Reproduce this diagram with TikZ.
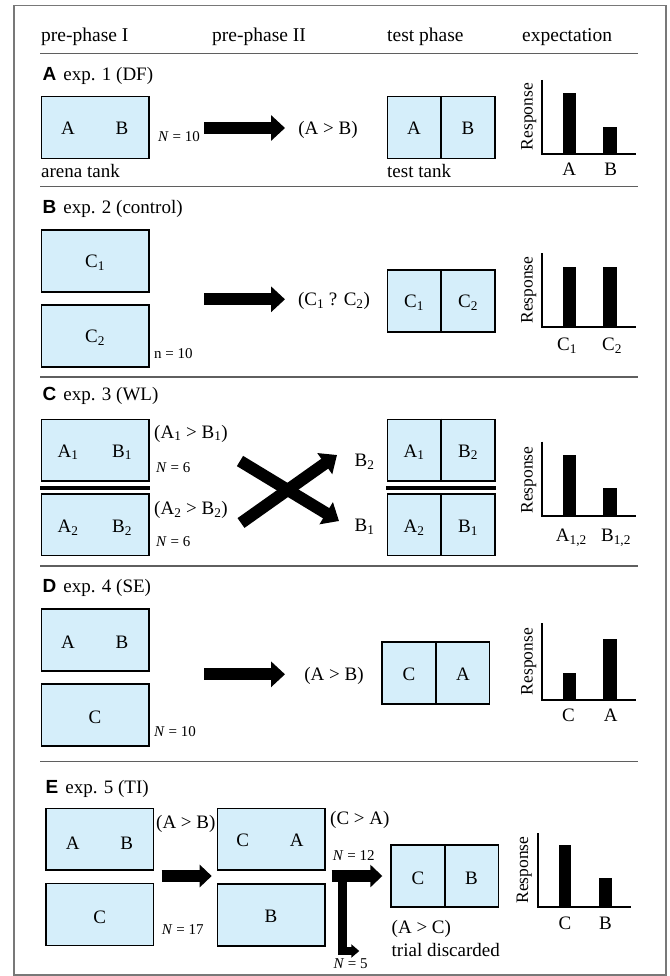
\documentclass[tikz,border=0pt]{standalone}
\usepackage{fontspec}
\setmainfont{Liberation Serif}
\newfontfamily\lsans{Liberation Sans}
\usetikzlibrary{arrows.meta}
\definecolor{tankblue}{RGB}{213,238,250}
\definecolor{sepgray}{RGB}{95,95,95}
\definecolor{framegray}{RGB}{120,120,120}
\begin{document}
\begin{tikzpicture}[x=1pt,y=-1pt,
  tank/.style={draw, line width=1.6pt, fill=tankblue, inner sep=0pt, minimum width=107.4pt, minimum height=61.7pt},
  txt/.style={inner sep=0pt, font=\fontsize{19}{22}\selectfont, text height=12.6pt, text depth=0pt},
  hdr/.style={inner sep=0pt, font=\fontsize{19.5}{22}\selectfont, text height=12.9pt, text depth=0pt, anchor=west},
  small/.style={inner sep=0pt, font=\fontsize{15}{18}\selectfont, text height=10pt, text depth=0pt, anchor=west},
  resp/.style={inner sep=0pt, font=\fontsize{17.5}{20}\selectfont, text height=11.6pt, text depth=0pt, rotate=90},
  seclbl/.style={inner sep=0pt, font=\fontsize{19}{22}\selectfont, text height=12.6pt, text depth=0pt, anchor=west},
  sep/.style={draw=sepgray, line width=1.3pt},
  divider/.style={line width=1.6pt},
  dbl/.style={line width=3.7pt},
  axisline/.style={line width=2.3pt, line join=miter},
  bigarrow/.style={line width=12pt, -{Triangle[length=14pt,width=25pt]}},
  crossarrow/.style={line width=12pt, -{Triangle[length=15pt,width=25pt]}},
  earrow/.style={line width=11.7pt, -{Triangle[length=12pt,width=22pt]}},
  brancharrow/.style={line width=8.4pt, line join=miter, -{Triangle[length=8pt,width=13pt]}}
]
\useasboundingbox (0,0) rectangle (669,976);
\draw[draw=framegray, line width=1.2pt] (14,5.7) rectangle (666,975);

% header
\node[hdr] (h1) at (41,35) {pre-phase I};
\node[hdr] (h2) at (212,35) {pre-phase II};
\node[hdr] (h3) at (387,35) {test phase};
\node[hdr] (h4) at (522,35) {expectation};
\draw[sep] (40,53.3) -- (638,53.3);

% ---------------- A
\node[seclbl] (la) at (42.5,74) {{\lsans\bfseries A}\hspace{7pt}exp. 1 (DF)};
\node[tank] (aA) at (95,127.5) {};
\node[txt] (aAa) at (68,128) {A};
\node[txt] (aAb) at (122,128) {B};
\node[txt, anchor=west] (aarena) at (41,171) {arena tank};
\node[small] (aN) at (158,136.7) {\textit{N} = 10};
\coordinate (a1) at (204,128);
\coordinate (a2) at (285,128);
\draw[bigarrow] (a1) -- (a2);
\node[txt] (arel) at (328,128) {(A > B)};
\node[tank] (tA) at (441,127.5) {};
\draw[divider] (tA.north) -- (tA.south);
\node[txt] (tAa) at (414,128) {A};
\node[txt] (tAb) at (468,128) {B};
\node[txt, anchor=west] (atest) at (387,171) {test tank};
\draw[axisline] (541.7,80) -- (541.7,154) -- (635.7,154);
\fill (562.7,154) rectangle (576,93.3);
\fill (603.3,154) rectangle (617.3,126.7);
\node[txt] (cAa) at (569.3,169.3) {A};
\node[txt] (cAb) at (610.7,169.3) {B};
\node[resp] (rA) at (526.7,116.7) {Response};
\draw[sep] (40,186.7) -- (638,186.7);

% ---------------- B
\node[seclbl] (lb) at (42.5,207) {{\lsans\bfseries B}\hspace{7pt}exp. 2 (control)};
\node[tank] (b1) at (95,260.85) {};
\node[txt] (b1t) at (95,261) {C\textsubscript{1}};
\node[tank] (b2) at (95,335.85) {};
\node[txt] (b2t) at (95,336) {C\textsubscript{2}};
\node[small] (bN) at (154,353) {n = 10};
\coordinate (b3) at (204,299.3);
\coordinate (b4) at (285,299.3);
\draw[bigarrow] (b3) -- (b4);
\node[txt] (brel) at (334,299.3) {(C\textsubscript{1} ? C\textsubscript{2})};
\node[tank] (tB) at (441,301) {};
\draw[divider] (tB.north) -- (tB.south);
\node[txt] (tBa) at (414,301) {C\textsubscript{1}};
\node[txt] (tBb) at (468,301) {C\textsubscript{2}};
\draw[axisline] (541.7,253.3) -- (541.7,327.3) -- (635.7,327.3);
\fill (562.7,327.3) rectangle (576,266.7);
\fill (603.3,327.3) rectangle (617.3,266.7);
\node[txt] (cBa) at (567,344) {C\textsubscript{1}};
\node[txt] (cBb) at (612,344) {C\textsubscript{2}};
\node[resp] (rB) at (526.7,290) {Response};
\draw[sep] (40,377) -- (638,377);

% ---------------- C
\node[seclbl] (lc) at (42.5,394) {{\lsans\bfseries C}\hspace{7pt}exp. 3 (WL)};
\node[tank] (c1) at (95,450.3) {};
\node[txt] (c1a) at (68,450.7) {A\textsubscript{1}};
\node[txt] (c1b) at (122,450.7) {B\textsubscript{1}};
\draw[dbl] (40,487.7) -- (150,487.7);
\node[tank] (c2) at (95,524.75) {};
\node[txt] (c2a) at (68,526) {A\textsubscript{2}};
\node[txt] (c2b) at (122,526) {B\textsubscript{2}};
\node[txt, anchor=west] (crel1) at (154,431.7) {(A\textsubscript{1} > B\textsubscript{1})};
\node[small] (cN1) at (156,467) {\textit{N} = 6};
\node[txt, anchor=west] (crel2) at (154,508) {(A\textsubscript{2} > B\textsubscript{2})};
\node[small] (cN2) at (156,541.5) {\textit{N} = 6};
\coordinate (x1s) at (241,523);
\coordinate (x1e) at (337,455);
\coordinate (x2s) at (240,461);
\coordinate (x2e) at (339,521);
\draw[crossarrow] (x1s) -- (x1e);
\draw[crossarrow] (x2s) -- (x2e);
\node[txt] (cB2) at (364.6,460) {B\textsubscript{2}};
\node[txt] (cB1) at (364.6,525) {B\textsubscript{1}};
\node[tank] (tC1) at (441,450.3) {};
\draw[divider] (tC1.north) -- (tC1.south);
\draw[dbl] (386,487.7) -- (496,487.7);
\node[tank] (tC2) at (441,524.75) {};
\draw[divider] (tC2.north) -- (tC2.south);
\node[txt] (tC1a) at (414,450.7) {A\textsubscript{1}};
\node[txt] (tC1b) at (468,450.7) {B\textsubscript{2}};
\node[txt] (tC2a) at (414,526) {A\textsubscript{2}};
\node[txt] (tC2b) at (468,526) {B\textsubscript{1}};
\draw[axisline] (541.7,441.7) -- (541.7,516) -- (635.7,516);
\fill (562.7,516) rectangle (576,455);
\fill (603.3,516) rectangle (617.3,488.3);
\node[txt] (cCa) at (571.4,535) {A\textsubscript{1,2}};
\node[txt] (cCb) at (616,535) {B\textsubscript{1,2}};
\node[resp] (rC) at (526.7,480) {Response};
\draw[sep] (40,566) -- (638,566);

% ---------------- D
\node[seclbl] (ld) at (42.5,586) {{\lsans\bfseries D}\hspace{7pt}exp. 4 (SE)};
\node[tank] (d1) at (95,639.85) {};
\node[txt] (d1a) at (68,641.7) {A};
\node[txt] (d1b) at (122,641.7) {B};
\node[tank] (d2) at (95,715) {};
\node[txt] (d2c) at (95,716.7) {C};
\node[small] (dN) at (154,731) {\textit{N} = 10};
\coordinate (d3) at (204,674.3);
\coordinate (d4) at (285,674.3);
\draw[bigarrow] (d3) -- (d4);
\node[txt] (drel) at (334,674) {(A > B)};
\node[tank] (tD) at (435.75,673) {};
\draw[divider] (tD.north) -- (tD.south);
\node[txt] (tDa) at (409,674) {C};
\node[txt] (tDb) at (463,674) {A};
\draw[axisline] (541.7,623.3) -- (541.7,700) -- (635.7,700);
\fill (562.7,700) rectangle (576,672.7);
\fill (603.3,700) rectangle (617.3,639.3);
\node[txt] (cDa) at (568.4,715) {C};
\node[txt] (cDb) at (610.7,715) {A};
\node[resp] (rD) at (526.7,661.7) {Response};
\draw[sep] (40,761.7) -- (638,761.7);

% ---------------- E
\node[seclbl] (le) at (45.5,787) {{\lsans\bfseries E}\hspace{7pt}exp. 5 (TI)};
\node[tank] (e1) at (99.65,839.15) {};
\node[txt] (e1a) at (72.7,842.7) {A};
\node[txt] (e1b) at (126.7,842.7) {B};
\node[tank] (e2) at (99.65,914.5) {};
\node[txt] (e2c) at (99.7,917) {C};
\node[txt, anchor=west] (erel1) at (156,821.7) {(A > B)};
\coordinate (e3) at (161.7,876);
\coordinate (e4) at (211.7,876);
\draw[earrow] (e3) -- (e4);
\node[small] (eN17) at (161.7,929.3) {\textit{N} = 17};
\node[tank] (e5) at (271,839.15) {};
\node[txt] (e5c) at (242.7,840) {C};
\node[txt] (e5a) at (296.7,840) {A};
\node[tank] (e6) at (271,914.85) {};
\node[txt] (e6b) at (271,916) {B};
\node[txt, anchor=west] (erel2) at (330,818.3) {(C > A)};
\node[small] (eN12) at (332.7,855) {\textit{N} = 12};
\coordinate (e7) at (331.7,876);
\coordinate (e8) at (382.3,876);
\draw[earrow] (e7) -- (e8);
\coordinate (e9) at (342.5,876);
\coordinate (e10) at (342.5,951);
\coordinate (e11) at (359.3,951);
\draw[brancharrow] (e9) -- (e10) -- (e11);
\node[small] (eN5) at (333.3,963.3) {\textit{N} = 5};
\node[tank] (tE) at (444.75,875.85) {};
\draw[divider] (tE.north) -- (tE.south);
\node[txt] (tEc) at (418,878) {C};
\node[txt] (tEb) at (471.4,878) {B};
\node[txt, anchor=west] (erel3) at (391.5,926.7) {(A > C)};
\node[txt, anchor=west] (edisc) at (391.5,950) {trial discarded};
\draw[axisline] (538.2,833.3) -- (538.2,907.3) -- (631,907.3);
\fill (558.6,907.3) rectangle (571.4,845);
\fill (599,907.3) rectangle (612,878.3);
\node[txt] (cEa) at (565,923.3) {C};
\node[txt] (cEb) at (605.5,923.3) {B};
\node[resp] (rE) at (522.4,870) {Response};
\end{tikzpicture}
\end{document}
